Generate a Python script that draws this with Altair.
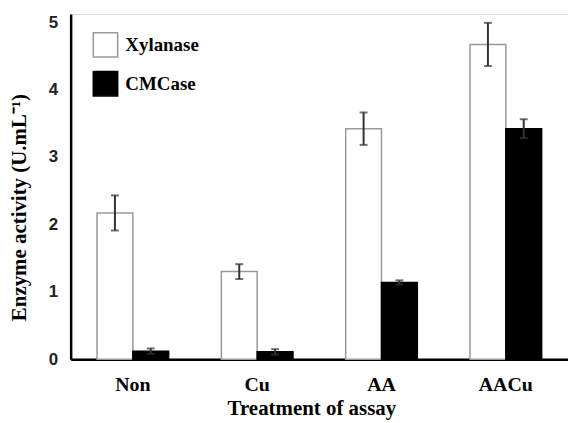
import altair as alt
import pandas as pd

categories = ["Non", "Cu", "AA", "AACu"]
enzymes = ["Xylanase", "CMCase"]
xylanase = [2.17, 1.30, 3.42, 4.67]
xylanase_err = [0.26, 0.11, 0.24, 0.32]
cmcase = [0.12, 0.11, 1.14, 3.42]
cmcase_err = [0.04, 0.04, 0.03, 0.14]

rows = []
for i, c in enumerate(categories):
    rows.append({"treatment": c, "enzyme": "Xylanase", "value": xylanase[i],
                 "lo": xylanase[i] - xylanase_err[i], "hi": xylanase[i] + xylanase_err[i]})
    rows.append({"treatment": c, "enzyme": "CMCase", "value": cmcase[i],
                 "lo": cmcase[i] - cmcase_err[i], "hi": cmcase[i] + cmcase_err[i]})
df = pd.DataFrame(rows)

serif = "Liberation Serif"
sans = "Liberation Sans"

x_enc = alt.X("treatment:N", sort=categories,
              scale=alt.Scale(paddingInner=0.424, paddingOuter=0.212),
              axis=alt.Axis(title="Treatment of assay", labelAngle=0, ticks=False,
                            labelFont=serif, labelFontSize=20, labelFontWeight="bold",
                            labelColor="black", labelPadding=15,
                            titleFont=serif, titleFontSize=21, titleFontWeight="bold",
                            titleColor="black", titleY=56, titleX=242,
                            titleBaseline="alphabetic",
                            domainColor="black", domainWidth=2.5))
xoff = alt.XOffset("enzyme:N", sort=enzymes,
                   scale=alt.Scale(paddingInner=0, paddingOuter=0))
y_scale = alt.Scale(domain=[0, 5.12], nice=False, zero=True)

bars = alt.Chart(df).mark_bar(strokeWidth=1.5).encode(
    x=x_enc,
    xOffset=xoff,
    y=alt.Y("value:Q", scale=y_scale,
            axis=alt.Axis(title="Enzyme activity (U.mL⁻¹)", values=[0, 1, 2, 3, 4, 5],
                          grid=False, ticks=False, format="d",
                          labelFont=sans, labelFontSize=17, labelFontWeight="bold",
                          labelColor="#222", labelPadding=13,
                          titleFont=serif, titleFontSize=21, titleFontWeight="bold",
                          titleColor="black", titleX=-51, titleY=194,
                          titleBaseline="middle",
                          domainColor="black", domainWidth=2.5)),
    fill=alt.Fill("enzyme:N", sort=enzymes,
                  scale=alt.Scale(domain=enzymes, range=["white", "black"]),
                  legend=alt.Legend(title=None, orient="none", legendX=22, legendY=18,
                                    symbolType="square", symbolSize=600,
                                    symbolStrokeWidth=1.5, rowPadding=7,
                                    labelFont=serif, labelFontSize=19,
                                    labelFontWeight="bold", labelColor="black",
                                    labelOffset=7, padding=0)),
    stroke=alt.Stroke("enzyme:N", sort=enzymes,
                      scale=alt.Scale(domain=enzymes, range=["#999999", "black"]),
                      legend=None),
)

rules = alt.Chart(df).mark_rule(color="#333333", strokeWidth=2).encode(
    x=alt.X("treatment:N", sort=categories),
    xOffset=xoff,
    y=alt.Y("lo:Q", scale=y_scale),
    y2="hi:Q",
)
caps_hi = alt.Chart(df).mark_tick(color="#333333", thickness=2, size=8).encode(
    x=alt.X("treatment:N", sort=categories),
    xOffset=xoff,
    y=alt.Y("hi:Q", scale=y_scale),
)
caps_lo = alt.Chart(df).mark_tick(color="#333333", thickness=2, size=8).encode(
    x=alt.X("treatment:N", sort=categories),
    xOffset=xoff,
    y=alt.Y("lo:Q", scale=y_scale),
)

chart = alt.layer(bars, rules, caps_hi, caps_lo).properties(
    width=500, height=347,
    autosize=alt.AutoSizeParams(type="none"),
    padding={"left": 63, "top": 5, "right": 0, "bottom": 62},
).configure_view(stroke=None).configure(background="white")

chart.save("out.html", embed_options={"renderer": "svg", "actions": False})
